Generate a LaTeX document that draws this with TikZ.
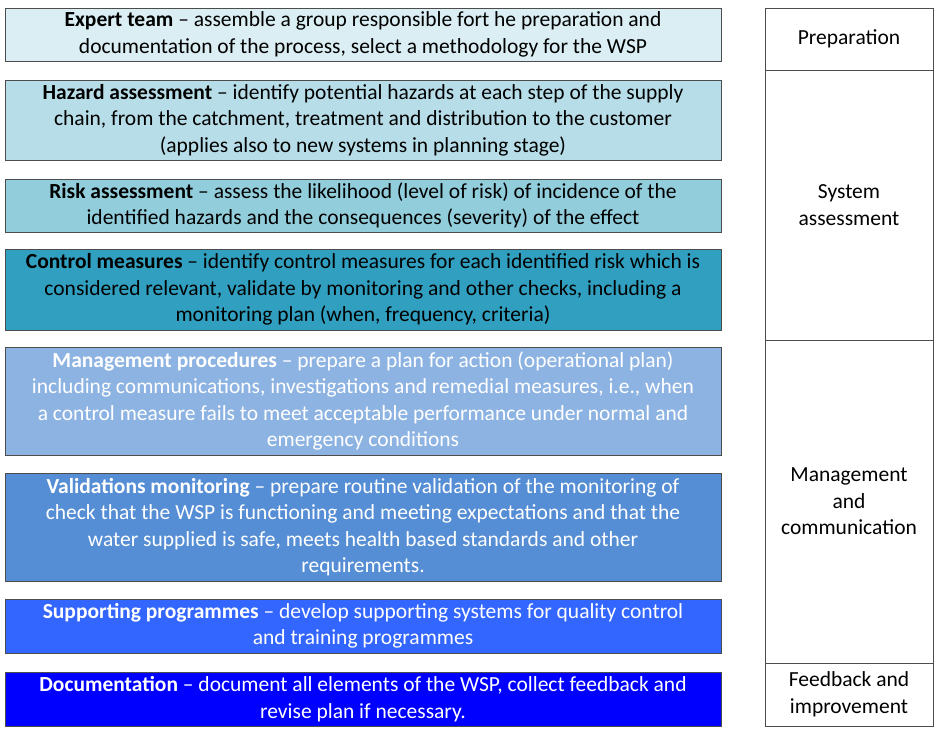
\documentclass[tikz,border=0pt]{standalone}
\usepackage{fontspec}
\setmainfont{Carlito}
\begin{document}
\begin{tikzpicture}[x=1pt,y=-1pt,
  stepbox/.style={draw=black!70,line width=0.6pt,inner sep=0pt,align=center,font=\fontsize{21.5}{26.5}\selectfont},
  colbox/.style={draw=black!70,line width=0.6pt,inner sep=0pt,align=center,font=\fontsize{21.5}{26.5}\selectfont}]
\useasboundingbox (0,0) rectangle (944,742);
\definecolor{c1}{HTML}{DAEEF3}
\definecolor{c2}{HTML}{B7DDE8}
\definecolor{c3}{HTML}{92CDDC}
\definecolor{c4}{HTML}{31A0C0}
\definecolor{c5}{HTML}{8DB3E2}
\definecolor{c6}{HTML}{558ED5}
\definecolor{c7}{HTML}{3366FF}
\definecolor{c8}{HTML}{0000FF}
\node[stepbox,fill=c1,minimum width=716pt,minimum height=53pt] (b1) at (363,34.5) {\textbf{Expert team} -- assemble a group responsible fort he preparation and\\documentation of the process, select a methodology for the WSP};
\node[stepbox,fill=c2,minimum width=716pt,minimum height=80pt] (b2) at (363,120) {\textbf{Hazard assessment} -- identify potential hazards at each step of the supply\\chain, from the catchment, treatment and distribution to the customer\\(applies also to new systems in planning stage)};
\node[stepbox,fill=c3,minimum width=716pt,minimum height=53pt] (b3) at (363,205.5) {\textbf{Risk assessment} -- assess the likelihood (level of risk) of incidence of the\\identified hazards and the consequences (severity) of the effect};
\node[stepbox,fill=c4,minimum width=716pt,minimum height=81pt] (b4) at (363,289.5) {\textbf{Control measures} -- identify control measures for each identified risk which is\\considered relevant, validate by monitoring and other checks, including a\\monitoring plan (when, frequency, criteria)};
\node[stepbox,fill=c5,text=white,minimum width=716pt,minimum height=108pt] (b5) at (363,401) {\textbf{Management procedures} -- prepare a plan for action (operational plan)\\including communications, investigations and remedial measures, i.e., when\\a control measure fails to meet acceptable performance under normal and\\emergency conditions};
\node[stepbox,fill=c6,text=white,minimum width=716pt,minimum height=108pt] (b6) at (363,527) {\textbf{Validations monitoring} -- prepare routine validation of the monitoring of\\check that the WSP is functioning and meeting expectations and that the\\water supplied is safe, meets health based standards and other\\requirements.};
\node[stepbox,fill=c7,text=white,minimum width=716pt,minimum height=54pt] (b7) at (363,626) {\textbf{Supporting programmes} -- develop supporting systems for quality control\\and training programmes};
\node[stepbox,fill=c8,text=white,minimum width=716pt,minimum height=54pt] (b8) at (363,699) {\textbf{Documentation} -- document all elements of the WSP, collect feedback and\\revise plan if necessary.};
\node[colbox,minimum width=168pt,minimum height=62pt] (r1) at (849,39) {Preparation};
\node[colbox,minimum width=168pt,minimum height=270pt] (r2) at (849,205) {System\\assessment};
\node[colbox,minimum width=168pt,minimum height=323pt] (r3) at (849,501.5) {Management\\and\\communication};
\node[colbox,minimum width=168pt,minimum height=63pt] (r4) at (849,694.5) {Feedback and\\improvement};
\end{tikzpicture}
\end{document}
